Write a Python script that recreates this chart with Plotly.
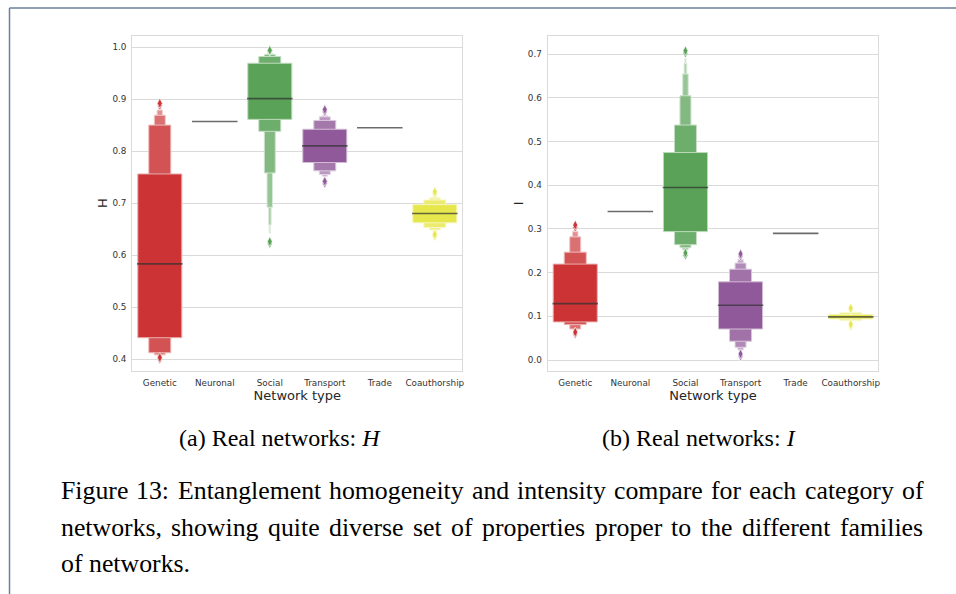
import plotly.graph_objects as go

W, H = 956, 594

categories = ["Genetic", "Neuronal", "Social", "Transport", "Trade", "Coauthorship"]
colors = ["#cb3335", "#3e78ab", "#59a257", "#905999", "#e5822a", "#e6e64d"]

# ---- Panel (a): H ----
H_median = [0.583, 0.857, 0.901, 0.810, 0.845, 0.680]
H_upper = [
    [0.756, 0.850, 0.869, 0.879, 0.883],
    [],
    [0.969, 0.982, 0.986, 0.988, 0.989, 0.990],
    [0.842, 0.859, 0.866, 0.869],
    [],
    [0.697, 0.706, 0.710, 0.712],
]
H_lower = [
    [0.441, 0.412, 0.408, 0.407, 0.406],
    [],
    [0.861, 0.838, 0.758, 0.692, 0.658, 0.642],
    [0.778, 0.762, 0.755, 0.751],
    [],
    [0.662, 0.653, 0.648, 0.646],
]
H_outliers = [
    [0.888, 0.892, 0.400, 0.403],
    [],
    [0.992, 0.994, 0.622, 0.626],
    [0.876, 0.880, 0.738, 0.742],
    [],
    [0.718, 0.722, 0.636, 0.640],
]

# ---- Panel (b): I ----
I_median = [0.129, 0.340, 0.395, 0.1255, 0.290, 0.0987]
I_upper = [
    [0.2196, 0.247, 0.282, 0.294, 0.297],
    [],
    [0.475, 0.538, 0.605, 0.655, 0.679, 0.691],
    [0.179, 0.208, 0.222, 0.230, 0.233],
    [],
    [0.104, 0.109],
]
I_lower = [
    [0.0872, 0.081, 0.071, 0.070, 0.069],
    [],
    [0.294, 0.264, 0.257, 0.252, 0.250, 0.249],
    [0.071, 0.043, 0.029, 0.023, 0.020],
    [],
    [0.094, 0.090],
]
I_outliers = [
    [0.304, 0.309, 0.060, 0.064],
    [],
    [0.703, 0.708, 0.240, 0.245],
    [0.238, 0.243, 0.009, 0.014],
    [],
    [0.115, 0.119, 0.078, 0.082],
]

H_ticks = [0.4, 0.5, 0.6, 0.7, 0.8, 0.9, 1.0]
I_ticks = [0.0, 0.1, 0.2, 0.3, 0.4, 0.5, 0.6, 0.7]

caption_a = "(a) Real networks: <i>H</i>"
caption_b = "(b) Real networks: <i>I</i>"
figure_caption = [
    "Figure 13: Entanglement homogeneity and intensity compare for each category of",
    "networks, showing quite diverse set of properties proper to the different families",
    "of networks.",
]

# Times / Liberation Serif advance widths (1/1000 em), used to justify the caption
TIMES_W = {" ": 250, ",": 250, ".": 250, ":": 278, "1": 500, "3": 500,
           "E": 611, "F": 556,
           "a": 444, "b": 500, "c": 444, "d": 500, "e": 444, "f": 333, "g": 500, "h": 500,
           "i": 278, "j": 278, "k": 500, "l": 278, "m": 778, "n": 500, "o": 500, "p": 500,
           "q": 500, "r": 333, "s": 389, "t": 278, "u": 500, "v": 500, "w": 722, "x": 500,
           "y": 500, "z": 444}


def hex_to_rgb(h):
    h = h.lstrip("#")
    return tuple(int(h[i:i + 2], 16) for i in (0, 2, 4))


def tint(h, f):
    r, g, b = hex_to_rgb(h)
    return "rgb(%d,%d,%d)" % (round(r + (255 - r) * f), round(g + (255 - g) * f), round(b + (255 - b) * f))


fig = go.Figure()
BOX_W = 0.8


def add_panel(xa, ya, median, upper, lower, outliers):
    for ci, cat in enumerate(categories):
        col = colors[ci]
        k = len(upper[ci])
        # outermost level first, innermost on top
        for j in reversed(range(k)):
            f = 0.75 * j / max(k, 1)
            fig.add_trace(go.Bar(
                x=[cat], y=[upper[ci][j] - lower[ci][j]], base=[lower[ci][j]],
                width=BOX_W * 2 ** (-j), xaxis=xa, yaxis=ya,
                marker=dict(color=tint(col, f), line=dict(color=tint(col, 0.6 + 0.3 * j / max(k, 1)), width=1)),
                hoverinfo="skip",
            ))
        # median line
        fig.add_trace(go.Scatter(
            x=[cat], y=[median[ci]], mode="markers", xaxis=xa, yaxis=ya,
            marker=dict(symbol="line-ew", size=32.5, line=dict(color="rgba(50,50,50,0.72)", width=1.6)),
            hoverinfo="skip",
        ))
        if outliers[ci]:
            fig.add_trace(go.Scatter(
                x=[cat] * len(outliers[ci]), y=outliers[ci], mode="markers", xaxis=xa, yaxis=ya,
                marker=dict(symbol="diamond-tall", size=7, color=col, line=dict(color="white", width=0.6)),
                hoverinfo="skip",
            ))


add_panel("x", "y", H_median, H_upper, H_lower, H_outliers)
add_panel("x2", "y2", I_median, I_upper, I_lower, I_outliers)

GRID = "#dadada"
tick_font = dict(family="DejaVu Sans", size=8.8, color="#333333")
title_font = dict(family="DejaVu Sans", size=13, color="#262626")


def xaxis(domain, anchor):
    return dict(domain=domain, anchor=anchor, type="category", categoryorder="array",
                categoryarray=categories, range=[-0.5, 5.5], showgrid=False,
                showline=True, mirror=True, linecolor=GRID, linewidth=1.2,
                ticks="", tickfont=tick_font, ticklabelstandoff=4, automargin=False,
                title=dict(text="Network type", font=title_font, standoff=2), zeroline=False,
                fixedrange=True)


def yaxis(domain, anchor, rng, ticks, title):
    return dict(domain=domain, anchor=anchor, range=rng, tickvals=ticks, tickformat=".1f",
                showgrid=True, gridcolor=GRID, gridwidth=1, showline=True, mirror=True,
                linecolor=GRID, linewidth=1.2, ticks="", tickfont=tick_font, ticklabelstandoff=3,
                automargin=False,
                title=dict(text=title, font=title_font, standoff=1), zeroline=False,
                fixedrange=True)


ydom = [1 - 370.7 / H, 1 - 35.7 / H]
fig.update_layout(
    width=W, height=H, margin=dict(l=0, r=0, t=0, b=0, autoexpand=False),
    paper_bgcolor="white", plot_bgcolor="white", showlegend=False, barmode="overlay",
    font=dict(family="DejaVu Sans"),
    xaxis=xaxis([132.3 / W, 462.3 / W], "y"),
    yaxis=yaxis(ydom, "x", [0.3775, 1.022], H_ticks, "H"),
    xaxis2=xaxis([547.7 / W, 878.3 / W], "y2"),
    yaxis2=yaxis(ydom, "x2", [-0.0245, 0.7426], I_ticks, "I"),
)

serif = dict(family="Liberation Serif", color="black")
ann = [
    dict(text=caption_a, x=280 / W, y=1 - 438 / H, xref="paper", yref="paper",
         xanchor="center", yanchor="middle", showarrow=False, font=dict(size=24, **serif)),
    dict(text=caption_b, x=699 / W, y=1 - 438 / H, xref="paper", yref="paper",
         xanchor="center", yanchor="middle", showarrow=False, font=dict(size=24, **serif)),
]

# justified caption: place each word
CAP_SIZE = 25.8
CAP_LEFT, CAP_RIGHT = 59.0, 921.0
for li, line in enumerate(figure_caption):
    words = line.split(" ")
    ww = [sum(TIMES_W.get(ch, 500) for ch in w) / 1000 * CAP_SIZE for w in words]
    if li < len(figure_caption) - 1 and len(words) > 1:
        gap = (CAP_RIGHT - CAP_LEFT - sum(ww)) / (len(words) - 1)
    else:
        gap = 0.25 * CAP_SIZE
    xpos = CAP_LEFT
    ycen = 490.5 + 36.7 * li
    for w, wpx in zip(words, ww):
        ann.append(dict(text=w, x=xpos / W, y=1 - ycen / H, xref="paper", yref="paper",
                        xanchor="left", yanchor="middle", showarrow=False,
                        font=dict(size=CAP_SIZE, **serif)))
        xpos += wpx + gap
fig.update_layout(annotations=ann)

border = "#6b7f99"
fig.add_shape(type="line", xref="paper", yref="paper", x0=9.5 / W, x1=1, y0=1 - 8 / H, y1=1 - 8 / H,
              line=dict(color=border, width=1.5))
fig.add_shape(type="line", xref="paper", yref="paper", x0=9.5 / W, x1=9.5 / W, y0=0, y1=1 - 8 / H,
              line=dict(color=border, width=1.5))

fig.write_html("out.html", config={"displayModeBar": False},
               post_script="document.body.style.margin='0';document.body.style.overflow='hidden';")
